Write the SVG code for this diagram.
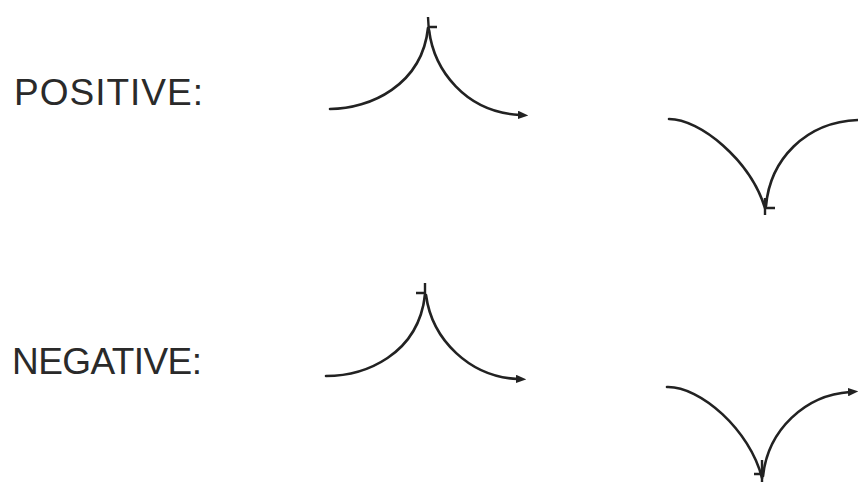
<svg xmlns="http://www.w3.org/2000/svg" width="858" height="482" viewBox="0 0 858 482">
<style>
.lbl{font-family:"Liberation Sans","DejaVu Sans",sans-serif;font-size:37px;fill:#2a2a2a;font-weight:300}
.c{fill:none;stroke:#222;stroke-width:2.6;stroke-linecap:round}
.t{fill:none;stroke:#222;stroke-width:2.4;stroke-linecap:butt}
</style>
<defs>
<marker id="ah" viewBox="0 0 10 8" refX="2" refY="4" markerWidth="4" markerHeight="3.2" orient="auto" markerUnits="strokeWidth">
<path d="M0,0 L10,4 L0,8 Z" fill="#222"/>
</marker>
</defs>
<g id="label-positive"><text class="lbl" x="14" y="105" textLength="189" lengthAdjust="spacing">POSITIVE:</text></g>
<g id="label-negative"><text class="lbl" x="12" y="374" textLength="190" lengthAdjust="spacing">NEGATIVE:</text></g>
<g id="connectors">
<g id="pos-peak">
<path class="c" d="M330,109 C370,109 422,85 428,28"/>
<path class="c" d="M429,30 C434,70 465,112 520,115" marker-end="url(#ah)"/>
<path class="t" d="M428,17 L429,33 M428,27 L437,27"/>
</g>
<g id="pos-valley">
<path class="c" d="M669,119 C700,119 750,160 765,208"/>
<path class="c" d="M766,206 C770,160 805,122 858,120"/>
<path class="t" d="M765,198 L765,215 M765,208 L775,208"/>
</g>
<g id="neg-peak">
<path class="c" d="M326,376 C365,376 418,355 425,295"/>
<path class="c" d="M426,295 C432,340 470,377 518,379" marker-end="url(#ah)"/>
<path class="t" d="M425,283 L425,299 M416,293 L425,293"/>
</g>
<g id="neg-valley">
<path class="c" d="M667,387 C700,386 750,430 762,478"/>
<path class="c" d="M763,476 C768,430 805,395 850,392" marker-end="url(#ah)"/>
<path class="t" d="M762,460 L762,482 M754,474 L762,474"/>
</g>
</g>
</svg>
